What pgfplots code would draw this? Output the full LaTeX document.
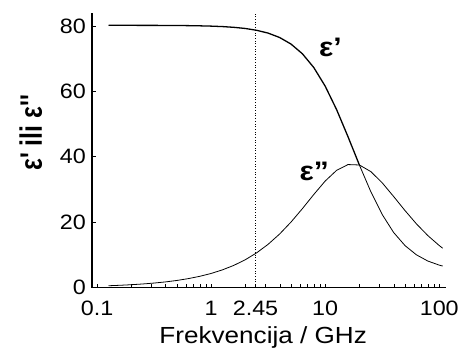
\documentclass[border=0pt]{standalone}
\usepackage{fontspec}
\setmainfont{Liberation Sans}[FakeStretch=1.12]
\newfontfamily\plainsans{Liberation Sans}
\usepackage{graphicx}
\usepackage{pgfplots}
\pgfplotsset{compat=1.18}
\pgfplotstableread{
f epsr epsi
0.1259 80.20 0.544
0.1585 80.19 0.685
0.1995 80.19 0.862
0.2512 80.18 1.085
0.3162 80.18 1.366
0.3981 80.16 1.719
0.5012 80.14 2.163
0.6310 80.10 2.723
0.7943 80.04 3.424
1.000 79.95 4.306
1.259 79.81 5.411
1.585 79.58 6.791
1.995 79.23 8.508
2.512 78.67 10.63
3.162 77.81 13.23
3.981 76.48 16.35
5.012 74.47 20.01
6.310 71.50 24.12
7.943 67.29 28.45
10.00 61.59 32.57
12.59 54.42 35.84
15.85 46.13 37.61
19.95 37.48 37.48
25.12 29.30 35.46
31.62 22.33 32.03
39.81 16.84 27.85
50.12 12.82 23.53
63.10 10.00 19.47
79.43 8.10 15.89
100.0 6.85 12.84
107.2 6.56 12.02
}\water
\begin{document}
\begin{tikzpicture}
\begin{axis}[
  name=ax,
  xmode=log,
  scale only axis,
  width=357pt, height=277pt,
  xmin=0.0906, xmax=115, ymin=0, ymax=84,
  axis lines*=left,
  x axis line style={line width=1.3pt},
  y axis line style={line width=2pt},
  xtick={0.1,1,2.45,10,100},
  xticklabels={0.1,1,2.45,10,100},
  minor xtick={0.2,0.3,0.4,0.5,0.6,0.7,0.8,0.9,2,3,4,5,6,7,8,9,20,30,40,50,60,70,80,90},
  ytick={0,20,40,60,80},
  tick align=inside,
  major tick length=4pt, minor tick length=4pt,
  tick style={black, line width=0.6pt},
  /pgf/number format/assume math mode=true,
  tick label style={font=\fontsize{21}{21}\selectfont},
  xticklabel style={anchor=base, yshift=-28pt},
  yticklabel style={anchor=east, xshift=-3pt},
  xlabel={Frekvencija / GHz},
  xlabel style={font=\fontsize{23.5}{23.5}\selectfont, at={(axis description cs:0.483,0)}, anchor=base, yshift=-56pt},
  ylabel={\scalebox{1}[1.25]{ε' ili ε''}},
  ylabel style={font=\plainsans\bfseries\fontsize{25}{25}\selectfont, at={(axis description cs:0,0.563)}, anchor=center, yshift=62pt},
  clip=false,
]
\addplot[black, dotted, line width=0.7pt] coordinates {(2.45,0) (2.45,84)};
\addplot[black, line width=0.8pt] table[x=f, y=epsi] {\water};
\addplot[black, line width=1.3pt, skip coords between index={23}{31}] table[x=f, y=epsr] {\water};
\addplot[black, line width=0.8pt, skip coords between index={0}{22}] table[x=f, y=epsr] {\water};
\node[font=\bfseries\fontsize{27}{27}\selectfont] at (axis cs:11.1,73.4) {ε'};
\node[font=\bfseries\fontsize{27}{27}\selectfont] at (axis cs:8.0,35.6) {ε''};
\end{axis}
\path ([xshift=-93pt,yshift=-56pt]ax.south west) rectangle ([xshift=12pt,yshift=13pt]ax.north east);
\end{tikzpicture}
\end{document}
